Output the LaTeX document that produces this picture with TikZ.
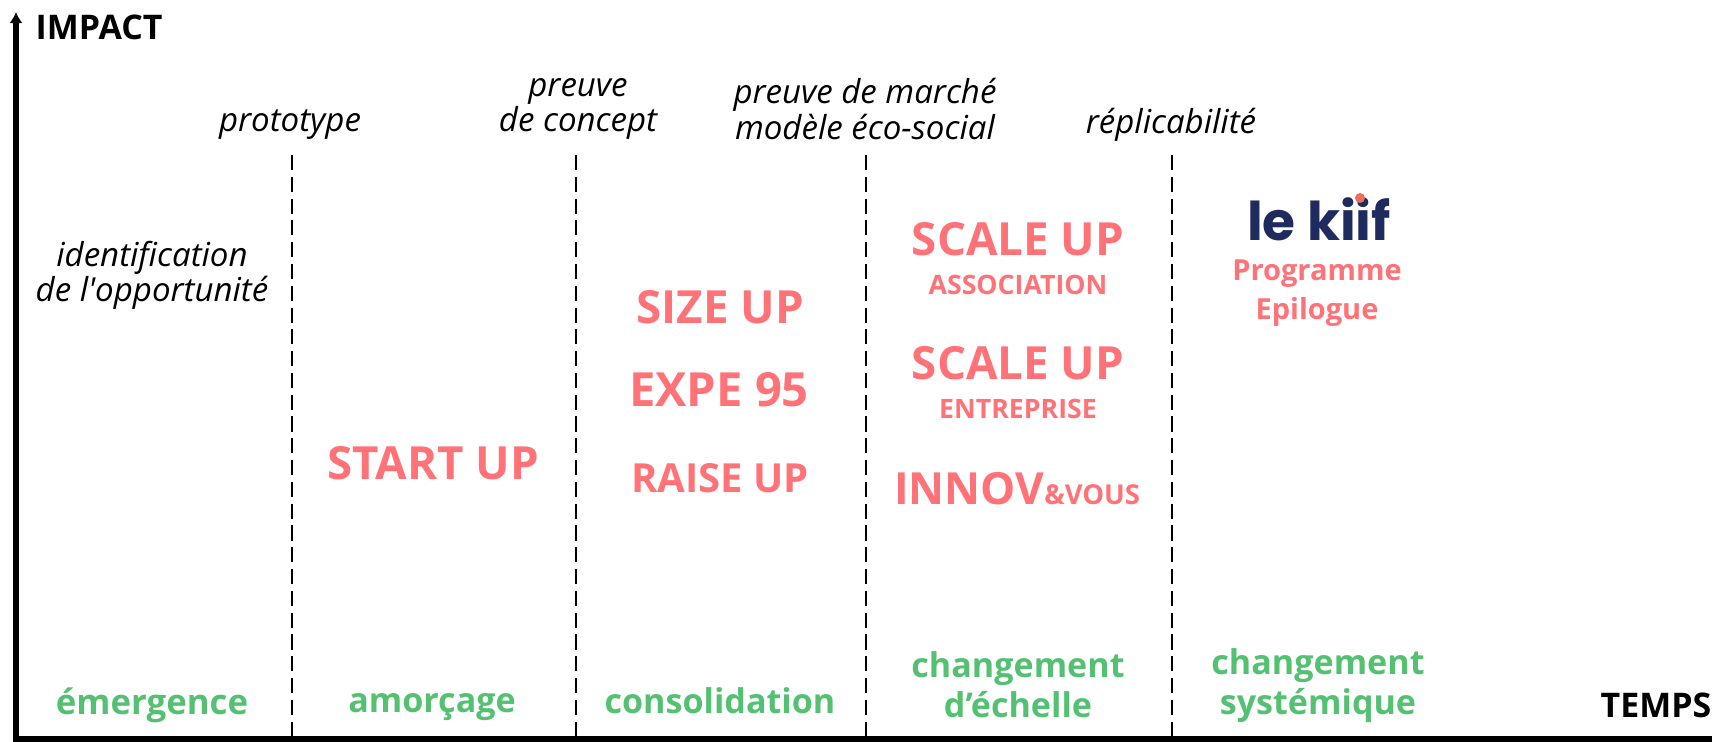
\documentclass[tikz,border=0pt]{standalone}
\usepackage{fontspec}
\setmainfont{Open Sans}
\newfontfamily\logofont{Poppins}
\usepackage{xcolor}
\usetikzlibrary{positioning, calc, arrows.meta}

\definecolor{redprog}{HTML}{FF7378}
\definecolor{greenstage}{HTML}{54C172}
\definecolor{navylogo}{HTML}{1F2A5E}
\definecolor{dotlogo}{HTML}{E8705F}

\tikzset{
  axisline/.style={black, line width=1.5pt},
  sepline/.style={black, line width=0.569pt, dash pattern=on 4.3pt off 1.9pt},
  axislabel/.style={font=\fontsize{9.65}{11}\selectfont\bfseries, inner sep=0pt},
  milestone/.style={font=\fontsize{9.4}{10}\selectfont\itshape, align=center, inner sep=0pt},
  stagename/.style={font=\fontsize{9.7}{11.4}\selectfont\bfseries, text=greenstage, align=center, inner sep=0pt},
  progbig/.style={font=\fontsize{13}{15}\selectfont\bfseries, text=redprog, inner sep=0pt},
  progsmall/.style={font=\fontsize{7.6}{9}\selectfont\bfseries, text=redprog, inner sep=0pt},
  progmid/.style={font=\fontsize{8.25}{10.9}\selectfont\bfseries, text=redprog, align=center, inner sep=0pt},
}

\begin{document}
\begin{tikzpicture}
\useasboundingbox (0,0) rectangle (17.12,7.41);

% Axes
\coordinate (origin) at (0.16,0.02);
\coordinate (impacttop) at (0.16,7.29);
\coordinate (tempsend) at (17.12,0.02);
\draw[axisline, -{Latex[length=3.2pt,width=3.8pt]}] (origin) -- (impacttop);
\draw[axisline] (0.135,0.02) -- (tempsend);
\node[axislabel, anchor=west] (impact) at (0.35,7.14) {IMPACT};
\node[axislabel, anchor=east] (temps) at (17.12,0.36) {TEMPS};

% Stage separators
\foreach \name/\x in {a/2.92,b/5.76,c/8.66,d/11.72} {
    \coordinate (top\name) at (\x,5.86);
    \coordinate (bot\name) at (\x,0.04);
    \draw[sepline] (top\name) -- (bot\name);
}

% Milestones
\node[milestone] (proto) at (2.90,6.165) {prototype};
\node[milestone] (concept) at (5.78,6.32) {preuve\\de concept};
\node[milestone] (marche) at (8.65,6.32) {preuve de marché\\modèle éco-social};
\node[milestone] (replic) at (11.71,6.165) {réplicabilité};
\node[milestone] (opport) at (1.52,4.66) {identification\\de l\textquotesingle opportunité};

% Stages
\node[stagename, font=\fontsize{9.9}{11.4}\selectfont\bfseries] (emerg) at (1.52,0.355) {émergence};
\node[stagename] (amorc) at (4.32,0.335) {amorçage};
\node[stagename] (conso) at (7.20,0.40) {consolidation};
\node[stagename] (echelle) at (10.18,0.56) {changement\\d’échelle};
\node[stagename] (system) at (13.18,0.55) {changement\\systémique};

% Programmes
\node[progbig] (startup) at (4.33,2.78) {START UP};
\node[progbig] (sizeup) at (7.20,4.34) {SIZE UP};
\node[progbig, font=\fontsize{13.4}{15}\selectfont\bfseries] (expe) at (7.19,3.51) {EXPE 95};
\node[progbig, font=\fontsize{11.4}{14}\selectfont\bfseries] (raise) at (7.20,2.63) {RAISE UP};
\node[progbig] (scaleA) at (10.18,5.02) {SCALE UP};
\node[progsmall] (assoc) at (10.18,4.56) {ASSOCIATION};
\node[progbig] (scaleE) at (10.18,3.78) {SCALE UP};
\node[progsmall] (entre) at (10.18,3.32) {ENTREPRISE};
\node[progbig, font=\fontsize{12.6}{15}\selectfont\bfseries] (innov) at (10.17,2.52) {INNOV{\fontsize{7.8}{9}\selectfont\&VOUS}};
\node[progmid] (epil) at (13.17,4.48) {Programme\\Epilogue};

% Logo
\node[font=\fontsize{15.2}{17}\logofont\bfseries, text=navylogo, inner sep=0pt] (kiif) at (13.19,5.22) {le kiif};
\fill[dotlogo] (13.60,5.43) circle (0.05);
\end{tikzpicture}
\end{document}
